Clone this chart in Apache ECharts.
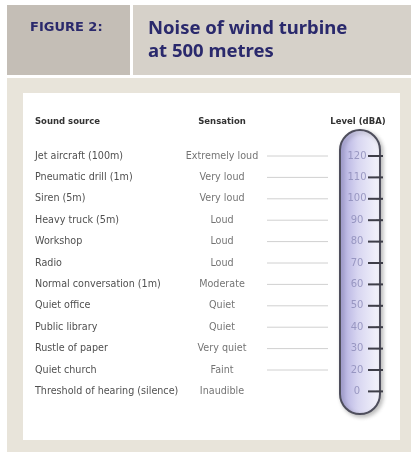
<!DOCTYPE html>
<html><head><meta charset="utf-8">
<script src="https://cdn.jsdelivr.net/npm/echarts@6/dist/echarts.min.js"></script>
<style>html,body{margin:0;padding:0;background:#fff}#c{width:412px;height:452px}</style>
</head><body><div id="c"></div>
<script>
const sources = ['Jet aircraft (100m)','Pneumatic drill (1m)','Siren (5m)','Heavy truck (5m)','Workshop','Radio','Normal conversation (1m)','Quiet office','Public library','Rustle of paper','Quiet church','Threshold of hearing (silence)'];
const sensations = ['Extremely loud','Very loud','Very loud','Loud','Loud','Loud','Moderate','Quiet','Quiet','Very quiet','Faint','Inaudible'];
const levels = [120,110,100,90,80,70,60,50,40,30,20,0];

const COL_SENS = 222, LEAD_A = 267, LEAD_B = 328, TUBE_L = 340, TUBE_R = 380, LBL_X = 357;
const idx = sources.map((s,i)=>i);

const chart = echarts.init(document.getElementById('c'), null, {renderer:'canvas'});
const FONT = '"DejaVu Sans", Verdana, sans-serif';
const navy = '#2a296c';

chart.setOption({
  animation:false,
  backgroundColor:'#ffffff',
  grid:{left:35, right:0, top:145.3, bottom:49.9},
  xAxis:{type:'value', min:35, max:412, show:false},
  yAxis:{type:'category', data:sources, inverse:true,
    axisLine:{show:false}, axisTick:{show:false}, splitLine:{show:false},
    axisLabel:{inside:true, margin:0, align:'left', color:'#505050', fontSize:9.6, fontFamily:FONT}},
  graphic:[
    {type:'rect', z:-10, shape:{x:7,y:5,width:123,height:70}, style:{fill:'#c4beb6'}},
    {type:'rect', z:-10, shape:{x:133,y:5,width:278,height:70}, style:{fill:'#d6d1c9'}},
    {type:'rect', z:-10, shape:{x:7,y:78,width:404,height:374}, style:{fill:'#e8e4da'}},
    {type:'rect', z:-9, shape:{x:23,y:93,width:377,height:347}, style:{fill:'#ffffff'}},
    {type:'text', z:5, x:30, y:21, style:{text:'FIGURE 2:', fill:navy, font:'bold 13px "DejaVu Sans", sans-serif'}},
    {type:'text', z:5, x:148, y:17, style:{text:'Noise of wind turbine\nat 500 metres', fill:navy, font:'bold 18.5px "Noto Sans", sans-serif', lineHeight:23}},
    {type:'text', z:5, x:35, y:117, style:{text:'Sound source', fill:'#333', font:'bold 8.5px '+FONT}},
    {type:'text', z:5, x:COL_SENS, y:117, style:{text:'Sensation', fill:'#333', align:'center', font:'bold 8.5px '+FONT}},
    {type:'text', z:5, x:358, y:117, style:{text:'Level (dBA)', fill:'#333', align:'center', font:'bold 8.5px '+FONT}}
  ],
  series:[
    {type:'custom', name:'leaders', data:idx.slice(0,11),
      renderItem:(p,api)=>{const i=api.value(0);const a=api.coord([LEAD_A,i]),b=api.coord([LEAD_B,i]);
        return {type:'line', shape:{x1:a[0],y1:a[1],x2:b[0],y2:b[1]}, style:{stroke:'#d0d0d0',lineWidth:1}};},
      encode:{x:-1,y:0}},
    {type:'scatter', name:'sensation', symbolSize:0, data:sensations.map((s,i)=>[COL_SENS,i]),
      label:{show:true, position:'inside', align:'center', color:'#505050', fontSize:9.6, fontFamily:FONT, formatter:p=>sensations[p.dataIndex]}},
    {type:'custom', name:'tube', data:[0], z:3,
      renderItem:(p,api)=>{
        const t=api.coord([TUBE_L,0]), b=api.coord([TUBE_R,levels.length-1]);
        const band=api.size([0,1])[1];
        const y0=t[1]-1.21*band, y1=b[1]+1.06*band;
        return {type:'rect', shape:{x:t[0],y:y0,width:b[0]-t[0],height:y1-y0,r:20},
          style:{fill:new echarts.graphic.LinearGradient(0,0,1,0,[{offset:0,color:'#aaa6dc'},{offset:0.45,color:'#d8d6f1'},{offset:1,color:'#f6f6fc'}]),
            stroke:'#4e4e5c', lineWidth:2, shadowBlur:4, shadowColor:'rgba(0,0,0,0.25)', shadowOffsetX:2, shadowOffsetY:2}};
      }},
    {type:'custom', name:'minorTicks', z:4, data:idx.slice(0,11),
      renderItem:(p,api)=>{const i=api.value(0);const a=api.coord([376,i+0.5]),b=api.coord([382,i+0.5]);
        return {type:'line', shape:{x1:a[0],y1:a[1],x2:b[0],y2:b[1]}, style:{stroke:'#555',lineWidth:1}};},
      encode:{x:-1,y:0}},
    {type:'custom', name:'majorTicks', z:4, data:idx,
      renderItem:(p,api)=>{const i=api.value(0);const a=api.coord([368,i]),b=api.coord([383,i]);
        return {type:'line', shape:{x1:a[0],y1:a[1],x2:b[0],y2:b[1]}, style:{stroke:'#3e3e48',lineWidth:2}};},
      encode:{x:-1,y:0}},
    {type:'scatter', name:'level', z:5, symbolSize:0, data:levels.map((v,i)=>[LBL_X,i]),
      label:{show:true, position:'inside', align:'center', color:'#8a88b6', fontSize:10, fontFamily:FONT, formatter:p=>String(levels[p.dataIndex])}}
  ]
});
</script></body></html>
